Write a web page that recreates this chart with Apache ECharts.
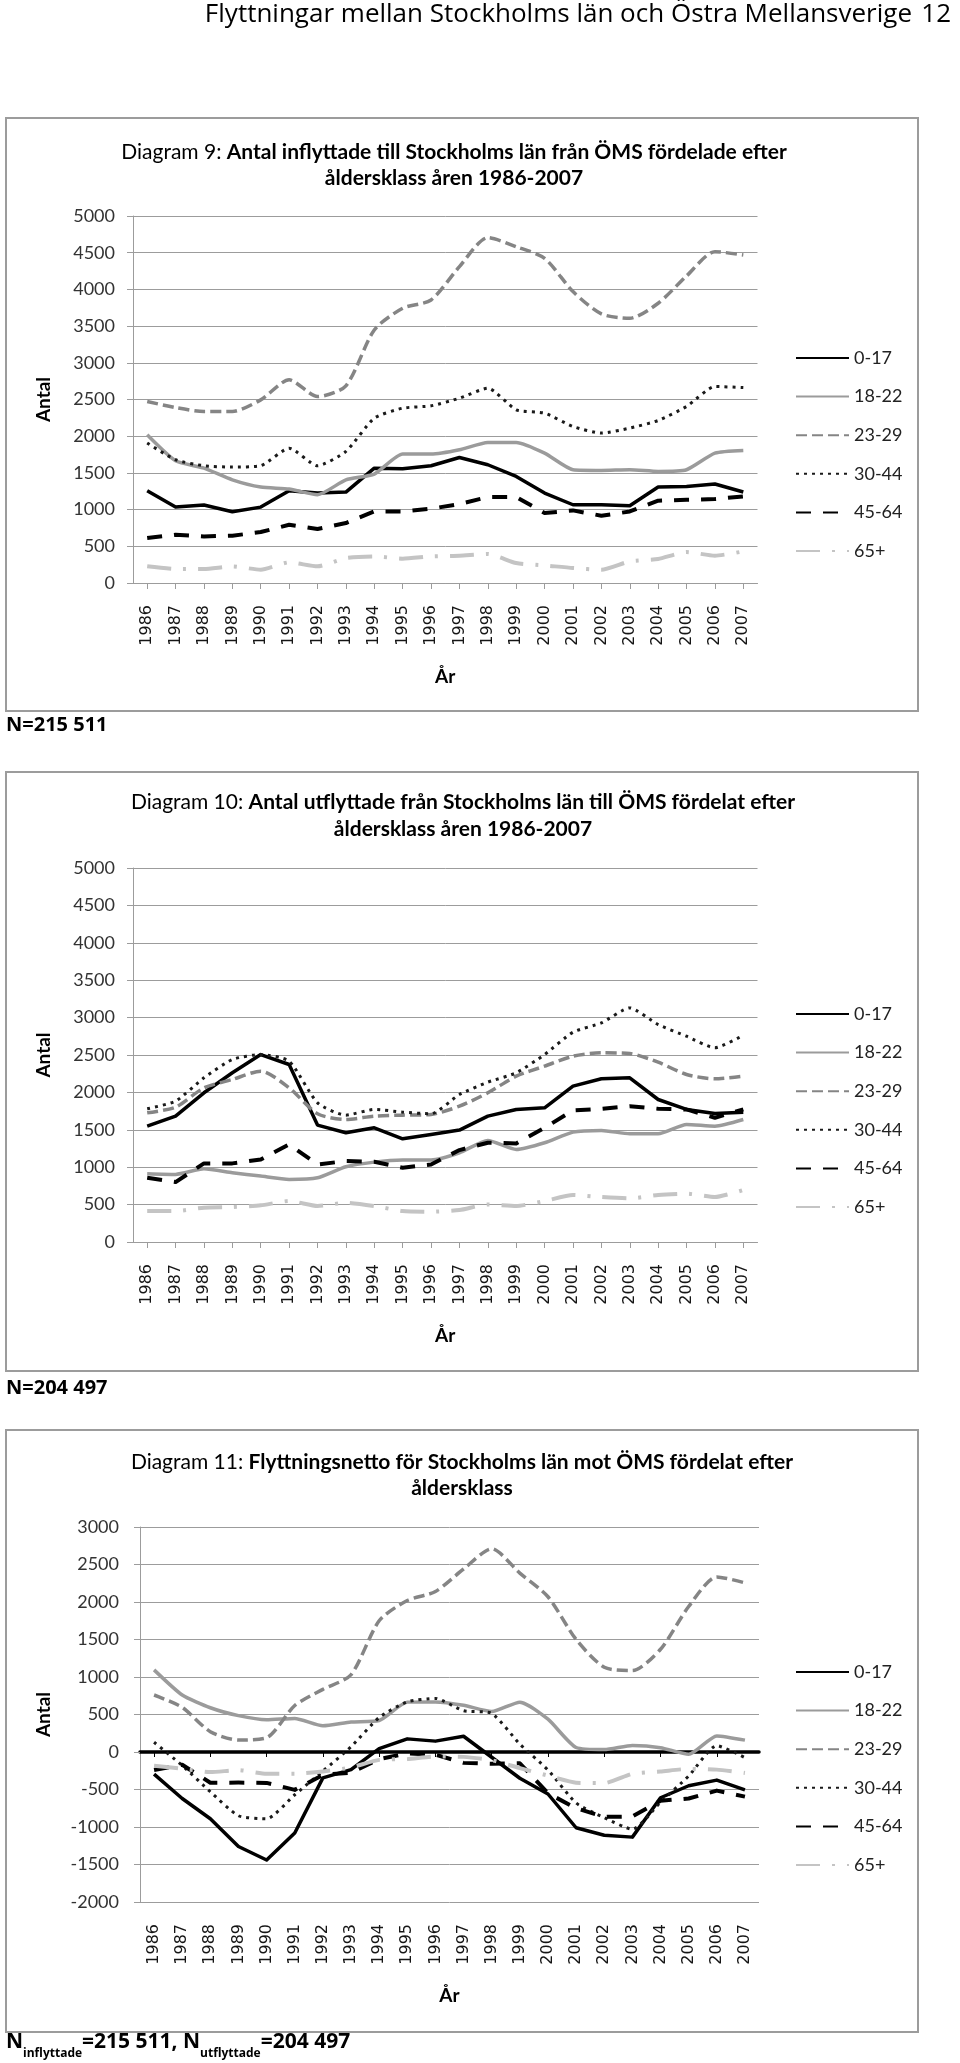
<!DOCTYPE html>
<html><head><meta charset="utf-8">
<script src="https://cdn.jsdelivr.net/npm/echarts@6/dist/echarts.min.js"></script>
<style>html,body{margin:0;padding:0;background:#fff}#c{width:960px;height:2063px}</style>
</head><body><div id="c"></div>
<script>
// ---------- DATA ----------
const years = ['1986','1987','1988','1989','1990','1991','1992','1993','1994','1995','1996','1997','1998','1999','2000','2001','2002','2003','2004','2005','2006','2007'];
const ageGroups = ['0-17','18-22','23-29','30-44','45-64','65+'];
const yTicks1 = [0, 5000, 500];       // min, max, step (Diagram 9 & 10)
const yTicks3 = [-2000, 3000, 500];   // min, max, step (Diagram 11)

// Diagram 9: inflyttade till Stockholms län från ÖMS
const in0_17  = [1257,1034,1062,971,1034,1257,1225,1239,1565,1556,1597,1710,1611,1452,1225,1066,1066,1053,1307,1316,1348,1239];
const in18_22 = [2019,1665,1565,1406,1307,1280,1202,1406,1484,1756,1756,1815,1915,1915,1769,1543,1534,1543,1520,1543,1769,1806];
const in23_29 = [2473,2390,2337,2337,2495,2768,2540,2686,3448,3743,3856,4310,4705,4582,4424,3970,3666,3607,3811,4183,4514,4469];
const in30_44 = [1906,1679,1597,1579,1597,1837,1597,1792,2246,2382,2414,2518,2654,2359,2314,2132,2042,2110,2214,2405,2677,2663];
const in45_64 = [612,658,635,644,694,794,735,817,975,975,1012,1075,1171,1171,953,989,916,975,1121,1134,1143,1180];
const in65    = [227,191,191,227,181,281,227,340,363,331,363,372,395,272,240,204,181,295,327,422,372,431];

// Diagram 10: utflyttade från Stockholms län till ÖMS
const out0_17  = [1549,1683,1995,2262,2506,2373,1563,1460,1527,1380,1438,1496,1683,1772,1794,2084,2182,2195,1905,1772,1718,1736];
const out18_22 = [913,904,979,926,881,837,859,1006,1068,1095,1095,1193,1358,1238,1327,1469,1491,1447,1447,1572,1549,1638];
const out23_29 = [1727,1803,2061,2173,2284,2061,1714,1638,1683,1696,1705,1816,1995,2217,2351,2484,2529,2520,2404,2239,2182,2217];
const out30_44 = [1781,1883,2195,2440,2506,2418,1861,1696,1772,1736,1714,1972,2137,2262,2506,2805,2929,3130,2907,2751,2596,2765];
const out45_64 = [859,801,1051,1051,1104,1304,1037,1082,1073,993,1037,1229,1327,1318,1527,1759,1781,1816,1781,1772,1661,1772];
const out65    = [414,414,459,467,490,548,481,525,481,414,405,427,503,481,548,628,601,583,628,646,601,695];

// Diagram 11: flyttningsnetto
const net0_17  = [-295,-620,-890,-1260,-1440,-1080,-345,-235,45,175,145,210,-70,-350,-560,-1010,-1110,-1135,-610,-450,-375,-505];
const net18_22 = [1095,760,590,485,430,448,350,400,420,665,668,622,540,665,437,60,32,88,58,-30,215,158];
const net23_29 = [760,595,270,160,190,620,835,1030,1750,2020,2140,2440,2710,2385,2070,1500,1130,1085,1370,1940,2335,2255];
const net30_44 = [130,-180,-530,-850,-890,-570,-255,70,460,670,715,550,515,105,-240,-680,-875,-1030,-670,-320,85,-75];
const net45_64 = [-240,-170,-410,-408,-412,-505,-305,-275,-95,-20,-35,-145,-156,-150,-550,-750,-865,-860,-650,-620,-515,-595];
const net65    = [-182,-222,-268,-242,-290,-290,-260,-205,-105,-95,-60,-65,-110,-215,-315,-410,-415,-290,-260,-225,-235,-280];

// ---------- STYLE ----------
const CAL = 'Lato, "Open Sans", sans-serif';
const FRU = '"Open Sans", "Noto Sans", sans-serif';
const GRID = '#9c9c9c';
const lineStyles = {
  '0-17':  {color:'#000000', width:3.5, type:'solid'},
  '18-22': {color:'#9b9b9b', width:3.5, type:'solid'},
  '23-29': {color:'#858585', width:3.5, type:[11,5]},
  '30-44': {color:'#1a1a1a', width:3,   type:[3,5]},
  '45-64': {color:'#000000', width:4,   type:[15,12]},
  '65+':   {color:'#c4c4c4', width:4,   type:[24,12,3,12]}
};
const smoothOf = {'0-17':0,'18-22':0.2,'23-29':0.25,'30-44':0.2,'45-64':0,'65+':0.2};

const sets = [
  [in0_17,in18_22,in23_29,in30_44,in45_64,in65],
  [out0_17,out18_22,out23_29,out30_44,out45_64,out65],
  [net0_17,net18_22,net23_29,net30_44,net45_64,net65]
];

const grids = [
  {left:133, top:216, width:624.5, height:367},
  {left:133, top:868, width:624.5, height:374},
  {left:140, top:1527, width:619, height:375}
];

function xAxisFor(g){
  return {
    type:'category', gridIndex:g, data:years, boundaryGap:true,
    axisLine:{show: g<2, onZero:false, lineStyle:{color:GRID, width:1}},
    axisTick:{show: g<2, alignWithLabel:true, length:6, lineStyle:{color:GRID}},
    axisLabel:{rotate:90, margin:22, interval:0, fontFamily:'"DejaVu Sans", sans-serif', fontSize:16, color:'#151515'},
    splitLine:{show:false},
    name:'År', nameLocation:'middle', nameGap:84,
    nameTextStyle:{fontFamily:CAL, fontWeight:'bold', fontSize:19, color:'#000'}
  };
}
function yAxisFor(g, t){
  return {
    type:'value', gridIndex:g, min:t[0], max:t[1], interval:t[2],
    axisLine:{show:true, lineStyle:{color:GRID, width:1}},
    axisTick:{show:true, length:6, lineStyle:{color:GRID}},
    axisLabel:{margin: g<2 ? 18 : 21, fontFamily:CAL, fontSize:18, color:'#333', formatter: v => String(v)},
    splitLine:{show:true, lineStyle:{color:GRID, width:1}},
    name:'Antal', nameLocation:'middle', nameRotate:90, nameGap: g<2 ? 80 : 87,
    nameTextStyle:{fontFamily:CAL, fontWeight:'bold', fontSize:19, color:'#000'}
  };
}

const xAxes = [xAxisFor(0), xAxisFor(1), xAxisFor(2),
  // zero line axis of Diagram 11
  {type:'category', gridIndex:2, data:years, boundaryGap:true, position:'top',
   axisLine:{show:true, onZero:true, lineStyle:{color:'#000', width:3.5}},
   axisTick:{show:true, inside:true, alignWithLabel:true, length:5, lineStyle:{color:'#000', width:1}},
   axisLabel:{show:false}, splitLine:{show:false}}
];
const yAxes = [yAxisFor(0,yTicks1), yAxisFor(1,yTicks1), yAxisFor(2,yTicks3)];

const series = [];
sets.forEach((arrs, g) => {
  arrs.forEach((arr, i) => {
    const name = ageGroups[i];
    const ls = lineStyles[name];
    series.push({
      type:'line', name, xAxisIndex:g, yAxisIndex:g, data:arr,
      symbol:'none', smooth:smoothOf[name], animation:false,
      lineStyle:{color:ls.color, width:ls.width, type:ls.type, cap:'butt', join:'round'},
      itemStyle:{color:ls.color}, z: 3
    });
  });
});

const legendTops = [343, 999, 1657];
const legends = legendTops.map(t => ({
  orient:'vertical', left:790, top:t, itemWidth:53, itemHeight:20, itemGap:18.6,
  selectedMode:false, data:ageGroups,
  itemStyle:{opacity:0},
  textStyle:{fontFamily:CAL, fontSize:18, color:'#222', lineHeight:20}
}));

function chartTitle(x, y1, y2, prefix, bold1, line2){
  return [
    {type:'text', x:x, y:y1, z:10, style:{
      text:'{r|'+prefix+'}{b|'+bold1+'}', align:'center', verticalAlign:'middle',
      rich:{r:{fontFamily:CAL, fontSize:21, fontWeight:'normal', color:'#111'},
            b:{fontFamily:CAL, fontSize:21, fontWeight:'bold', color:'#000'}}}},
    {type:'text', x:x, y:y2, z:10, style:{
      text:line2, align:'center', verticalAlign:'middle',
      fontFamily:CAL, fontSize:21, fontWeight:'bold', fill:'#000'}}
  ];
}
const boxStyle = {fill:'none', stroke:'#9c9c9c', lineWidth:2};
const graphic = [
  {type:'rect', shape:{x:6, y:118, width:912, height:593}, style:boxStyle, z:-10, silent:true},
  {type:'rect', shape:{x:6, y:772, width:912, height:599}, style:boxStyle, z:-10, silent:true},
  {type:'rect', shape:{x:6, y:1430, width:912, height:602}, style:boxStyle, z:-10, silent:true},
  {type:'text', x:912, y:15, style:{text:'Flyttningar mellan Stockholms län och Östra Mellansverige', align:'right', verticalAlign:'middle', fontFamily:FRU, fontSize:26, fill:'#000'}},
  {type:'text', x:951, y:15, style:{text:'12', align:'right', verticalAlign:'middle', fontFamily:FRU, fontSize:26, fill:'#000'}},
  ...chartTitle(454, 152, 178, 'Diagram 9: ', 'Antal inflyttade till Stockholms län från ÖMS fördelade efter', 'åldersklass åren 1986-2007'),
  ...chartTitle(463, 802, 829, 'Diagram 10: ', 'Antal utflyttade från Stockholms län till ÖMS fördelat efter', 'åldersklass åren 1986-2007'),
  ...chartTitle(462, 1462, 1488, 'Diagram 11: ', 'Flyttningsnetto för Stockholms län mot ÖMS fördelat efter', 'åldersklass'),
  {type:'text', x:6, y:725, style:{text:'N=215 511', align:'left', verticalAlign:'middle', fontFamily:FRU, fontWeight:'bold', fontSize:20, fill:'#000'}},
  {type:'text', x:6, y:1388, style:{text:'N=204 497', align:'left', verticalAlign:'middle', fontFamily:FRU, fontWeight:'bold', fontSize:20, fill:'#000'}},
  {type:'text', x:6, y:2046, style:{
    text:'{b|N}{s|inflyttade}{b|=215 511, N}{s|utflyttade}{b|=204 497}', align:'left', verticalAlign:'middle',
    rich:{b:{fontFamily:FRU, fontWeight:'bold', fontSize:21, color:'#000', lineHeight:28, verticalAlign:'top'},
          s:{fontFamily:FRU, fontWeight:'bold', fontSize:12, color:'#000', lineHeight:28, verticalAlign:'bottom'}}}}
];

const chart = echarts.init(document.getElementById('c'), null, {renderer:'canvas', width:960, height:2063});
chart.setOption({
  backgroundColor:'#ffffff',
  animation:false,
  grid: grids,
  xAxis: xAxes,
  yAxis: yAxes,
  legend: legends,
  series: series,
  graphic: graphic
});
</script>
</body></html>
